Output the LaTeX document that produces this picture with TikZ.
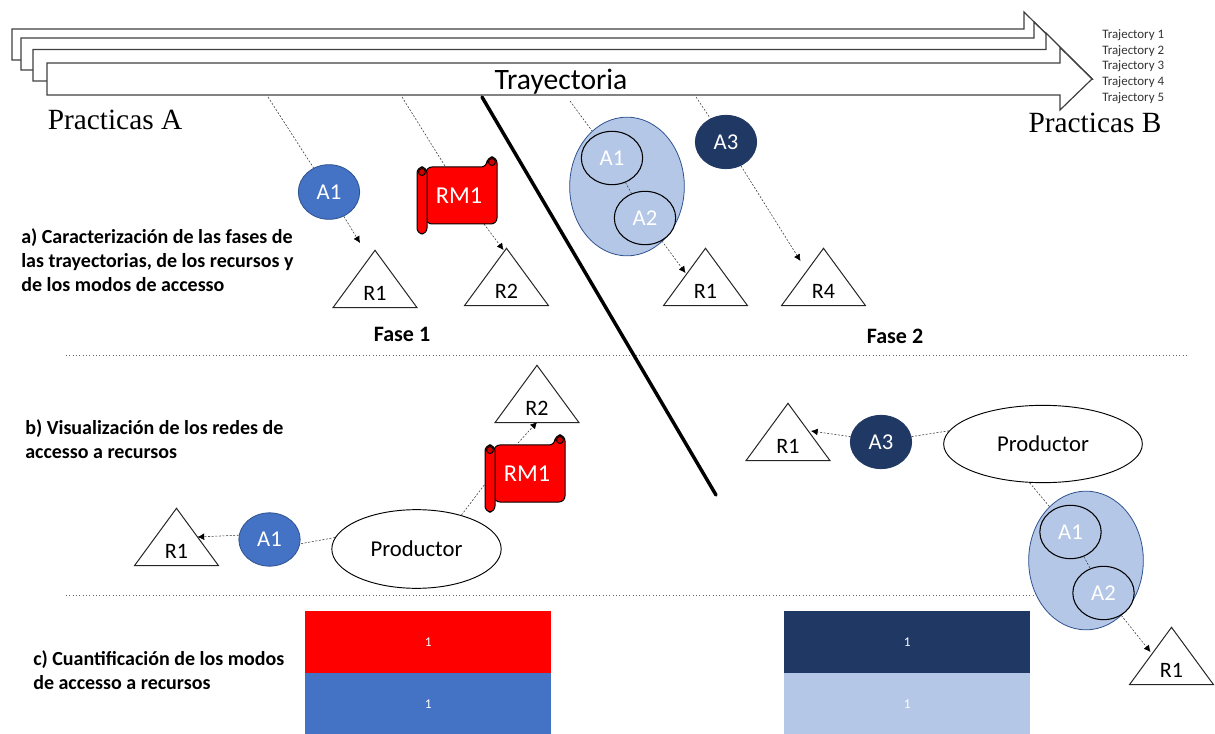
\documentclass[tikz,border=0pt]{standalone}
\usepackage{fontspec}
\setmainfont{Carlito}
\newfontfamily\timesf{Liberation Serif}
\usetikzlibrary{shapes.geometric,arrows.meta,calc,backgrounds}
\definecolor{cblue}{HTML}{4472C4}
\definecolor{cedge}{HTML}{2F528F}
\definecolor{cnavy}{HTML}{203864}
\definecolor{clight}{HTML}{B4C7E7}
\definecolor{cred}{HTML}{FF0000}
\tikzset{
  trajarrow/.style={draw=black!75,fill=white,line width=.9pt},
  tri/.style={draw=black!85,fill=white,line width=.75pt,isosceles triangle,isosceles triangle stretches,shape border rotate=90,minimum width=63pt,minimum height=43pt,inner sep=0pt,anchor=apex},
  trilabel/.style={font=\fontsize{16.5}{20}\selectfont,text=black,inner sep=0pt},
  conn/.style={dash pattern=on 1.5pt off 1.2pt,line width=.4pt,draw=black!80},
  connarrow/.style={conn,-{Latex[length=5pt,width=5pt,black]}},
  access/.style={ellipse,minimum width=46pt,minimum height=40pt,inner sep=0pt,text=white,font=\fontsize{17}{20}\selectfont,line width=.6pt},
  abig/.style={ellipse,draw=cedge,fill=clight,minimum width=86pt,minimum height=104pt,inner sep=0pt,line width=.6pt},
  asub/.style={access,draw=black,fill=clight,line width=.8pt},
  prod/.style={ellipse,draw=black,fill=white,inner sep=0pt,font=\fontsize{17}{20}\selectfont,line width=.7pt},
  steplabel/.style={font=\fontsize{15}{18}\selectfont\bfseries,align=left,anchor=north west,inner sep=0pt},
  sep/.style={dotted,line width=.5pt,draw=black!60},
  cell/.style={minimum width=184.5pt,minimum height=46.5pt,inner sep=0pt,text=white,font=\fontsize{10}{12}\selectfont,anchor=north west},
  prac/.style={font=\timesf\fontsize{22}{26}\selectfont,inner sep=0pt},
  trajlabel/.style={font=\fontsize{9.7}{11}\selectfont,text=black!80,anchor=west,inner sep=0pt},
  fase/.style={font=\fontsize{16.5}{20}\selectfont\bfseries,inner sep=0pt},
}
\newcommand{\trinode}[4]{%
  \node[tri] (#1) at (#2,#3) {};
  \node[trilabel] (#1t) at (#2,#3+44) {#4};}
\newcommand{\scrollnode}[3]{%
  \begin{scope}[shift={(#2,#3)},line width=.75pt,draw=black]
    \filldraw[fill=cred,rounded corners=4.5pt] (70,10) -- (70,0) -- (80,0) -- (80,67) -- (9,67) -- (9,10) -- cycle;
    \filldraw[fill=cred,rounded corners=4.5pt] (0,10) rectangle (10,77);
    \filldraw[fill=cred!80!black] (5,15) circle[radius=3.5];
    \filldraw[fill=cred!80!black] (75,5) circle[radius=3.5];
  \end{scope}
  \node[text=white,font=\fontsize{18.2}{22}\selectfont,inner sep=0pt] (#1) at (#2+42,#3+39) {RM1};}
\begin{document}
\begin{tikzpicture}[x=.75pt,y=-.75pt]
\useasboundingbox (0,0) rectangle (1215,734);
% trajectory arrows
\draw[trajarrow] (12,29) -- (1024,29) -- (1024,12) -- (1092,79) -- (1030,79) -- (1030,60) -- (12,60) -- cycle;
\draw[trajarrow] (21,38) -- (1034,38) -- (1034,22) -- (1092,79) -- (1030,79) -- (1030,70) -- (21,70) -- cycle;
\draw[trajarrow] (33,49.5) -- (1046,49.5) -- (1046,33) -- (1092,79) -- (1040,79) -- (1040,81) -- (33,81) -- cycle;
\draw[trajarrow] (47,63) -- (1060,63) -- (1060,47.5) -- (1092,79) -- (1060,110) -- (1060,95) -- (47,95) -- cycle;
\node[font=\fontsize{22.2}{26}\selectfont,inner sep=0pt] (tray) at (561,82) {Trayectoria};
\node[prac] (pa) at (115,120) {Practicas A};
\node[prac] (pb) at (1095,123) {Practicas B};
\node[trajlabel] (t1) at (1102,35) {Trajectory 1};
\node[trajlabel] (t2) at (1102,51) {Trajectory 2};
\node[trajlabel] (t3) at (1102,66.5) {Trajectory 3};
\node[trajlabel] (t4) at (1102,82) {Trajectory 4};
\node[trajlabel] (t5) at (1102,98) {Trajectory 5};
\coordinate (s1) at (268,97);
\coordinate (s2) at (402,97);
\coordinate (s3) at (570,101);
\coordinate (s4) at (696,97);
% separators
\coordinate (la) at (66,355); \coordinate (lb) at (1188,355);
\coordinate (lc) at (66,595); \coordinate (ld) at (1040,595);
\draw[sep] (la) -- (lb);
\draw[sep] (lc) -- (ld);
% thick line
\coordinate (ta) at (482,97); \coordinate (tb) at (716,495);
\draw[line width=2.6pt,line cap=round] (ta) -- (tb);
% panel a
\node[access,draw=cedge,fill=cblue,minimum height=41pt] (a1) at (329,192) {A1};
\node[access,draw=cnavy,fill=cnavy] (a3) at (726,142) {A3};
\scrollnode{rma}{417}{157}
\node[abig] (bg1) at (627,186.5) {};
\node[asub] (a1s) at (612,158) {A1};
\node[asub] (a2s) at (645,218) {A2};
\trinode{ra1}{375}{249}{R1}
\trinode{ra2}{506.5}{247}{R2}
\trinode{ra3}{705.5}{247}{R1}
\trinode{ra4}{823.5}{247}{R4}
% panel b
\trinode{rb2}{537}{364}{R2}
\trinode{rb1}{788}{402}{R1}
\trinode{rb3}{176.5}{507}{R1}
\trinode{rb4}{1171.5}{626}{R1}
\node[access,draw=cnavy,fill=cnavy] (b3) at (881,442) {A3};
\node[access,draw=cedge,fill=cblue] (b1) at (269.5,539.5) {A1};
\node[prod,minimum width=127pt,minimum height=59pt] (p1) at (416.5,549) {Productor};
\node[prod,minimum width=149pt,minimum height=58pt] (p2) at (1043,444) {Productor};
\scrollnode{rmb}{485}{435}
\node[abig] (bg2) at (1086,560.5) {};
\node[asub] (b1s) at (1070.5,532) {A1};
\node[asub] (b2s) at (1103.5,593) {A2};
% connectors behind the shapes
\begin{scope}[on background layer]
\draw[conn] (s1) -- (a1);
\draw[connarrow] (a1) -- ($(ra1.apex)+(-15,-6)$);
\draw[conn] (s2) -- ($(rma)+(-14,-30)$);
\draw[connarrow] ($(rma)+(25,28)$) -- ($(ra2.apex)+(-3,3)$);
\draw[conn] (s3) -- (a1s);
\draw[connarrow] (a2s) -- ($(ra3.apex)+(-20,26)$);
\draw[conn] (s4) -- (a3);
\draw[connarrow] (a3) -- ($(ra4.apex)+(-23,14)$);
\draw[conn] (p2.172) -- (b3.10);
\draw[connarrow] (b3.170) -- ($(rb1.apex)+(23,29)$);
\draw[conn] (p1.172) -- (b1.352);
\draw[connarrow] (b1.172) -- ($(rb3.apex)+(21,30)$);
\draw[conn] (p1.37) -- ($(rmb)+(-42,10)$);
\draw[connarrow] ($(rmb)+(-9,-31)$) -- ($(rb2.apex)+(0,58)$);
\draw[conn] (p2.251) -- (b1s);
\draw[connarrow] (b2s) -- ($(rb4.apex)+(-21,26)$);
\end{scope}
\draw[conn] (a1s) -- (a2s);
\draw[conn] (b1s) -- (b2s);
% step labels
\node[steplabel] (la1) at (21,228) {a) Caracterización de las fases de\\las trayectorias, de los recursos y\\de los modos de accesso};
\node[steplabel] (lb1) at (25,419) {b) Visualización de los redes de\\accesso a recursos};
\node[steplabel] (lc1) at (33,650) {c) Cuantificación de los modos\\de accesso a recursos};
\node[fase] (f1) at (402,334) {Fase 1};
\node[fase] (f2) at (895,336) {Fase 2};
% cells
\node[cell,fill=cred] (c1) at (305,611) {1};
\node[cell,fill=cblue] (c2) at (305,673) {1};
\node[cell,fill=cnavy] (c3) at (784,611) {1};
\node[cell,fill=clight] (c4) at (784,673) {1};
\end{tikzpicture}
\end{document}
